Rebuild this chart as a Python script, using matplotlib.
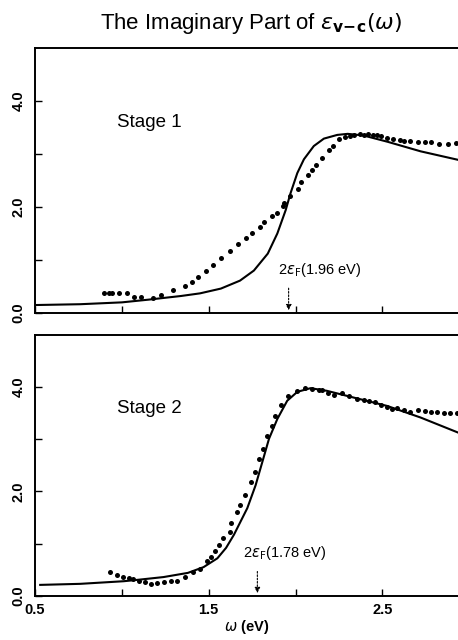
import matplotlib
matplotlib.use('Agg')
import matplotlib.pyplot as plt
from matplotlib.ticker import FixedLocator

plt.rcParams['font.family'] = ['Liberation Sans', 'DejaVu Sans']
plt.rcParams['mathtext.fontset'] = 'dejavusans'

# Stage 1: measured points (omega in eV, Im eps)
s1_dots_x = [0.895, 0.927, 0.943, 0.985, 1.029, 1.071, 1.113, 1.180, 1.228, 1.293,
             1.364, 1.402, 1.441, 1.484, 1.527, 1.572, 1.623, 1.671, 1.713, 1.751,
             1.795, 1.820, 1.866, 1.891, 1.929, 1.933, 1.966, 2.015, 2.034, 2.073,
             2.092, 2.115, 2.153, 2.191, 2.217, 2.249, 2.282, 2.312, 2.339, 2.368,
             2.393, 2.418, 2.447, 2.466, 2.494, 2.527, 2.561, 2.599, 2.622, 2.661,
             2.705, 2.747, 2.782, 2.823, 2.877, 2.925]
s1_dots_y = [0.37, 0.37, 0.37, 0.37, 0.375, 0.30, 0.30, 0.29, 0.34, 0.44,
             0.51, 0.59, 0.67, 0.79, 0.90, 1.03, 1.175, 1.31, 1.41, 1.50,
             1.62, 1.71, 1.83, 1.88, 2.01, 2.07, 2.20, 2.33, 2.47, 2.60,
             2.70, 2.79, 2.93, 3.07, 3.16, 3.28, 3.32, 3.34, 3.36, 3.37,
             3.36, 3.37, 3.36, 3.35, 3.34, 3.31, 3.28, 3.26, 3.24, 3.24,
             3.23, 3.23, 3.23, 3.19, 3.19, 3.21]

# Stage 1: theory curve
s1_line_x = [0.51, 0.76, 1.00, 1.15, 1.34, 1.45, 1.57, 1.68, 1.76, 1.84, 1.895,
             1.943, 1.971, 2.01, 2.048, 2.105, 2.163, 2.24, 2.30, 2.39, 2.53,
             2.72, 2.935]
s1_line_y = [0.15, 0.165, 0.20, 0.25, 0.32, 0.37, 0.46, 0.61, 0.80, 1.12, 1.50,
             1.94, 2.26, 2.64, 2.90, 3.15, 3.29, 3.36, 3.38, 3.35, 3.23,
             3.05, 2.89]

# Stage 2: measured points
s2_dots_x = [0.933, 0.971, 1.004, 1.042, 1.067, 1.100, 1.134, 1.167, 1.201, 1.243,
             1.282, 1.320, 1.364, 1.412, 1.450, 1.489, 1.511, 1.534, 1.562, 1.584,
             1.623, 1.626, 1.661, 1.680, 1.709, 1.741, 1.764, 1.789, 1.812, 1.837,
             1.862, 1.879, 1.914, 1.956, 2.006, 2.057, 2.096, 2.134, 2.153, 2.186,
             2.224, 2.268, 2.306, 2.351, 2.393, 2.421, 2.460, 2.494, 2.527, 2.556,
             2.585, 2.622, 2.661, 2.703, 2.743, 2.782, 2.814, 2.852, 2.891, 2.929]
s2_dots_y = [0.457, 0.39, 0.36, 0.34, 0.32, 0.28, 0.26, 0.22, 0.25, 0.27,
             0.29, 0.29, 0.36, 0.45, 0.52, 0.66, 0.74, 0.85, 0.98, 1.10,
             1.23, 1.39, 1.60, 1.75, 1.94, 2.18, 2.37, 2.62, 2.82, 3.07,
             3.26, 3.45, 3.66, 3.83, 3.93, 3.98, 3.96, 3.94, 3.94, 3.88,
             3.85, 3.88, 3.83, 3.78, 3.75, 3.73, 3.71, 3.66, 3.61, 3.59,
             3.60, 3.56, 3.53, 3.57, 3.54, 3.52, 3.52, 3.50, 3.50, 3.51]

# Stage 2: theory curve
s2_line_x = [0.53, 0.76, 1.01, 1.10, 1.24, 1.38, 1.47, 1.55, 1.60, 1.645, 1.722,
             1.77, 1.809, 1.847, 1.895, 1.952, 2.01, 2.086, 2.18, 2.335, 2.527,
             2.718, 2.935]
s2_line_y = [0.21, 0.23, 0.28, 0.31, 0.36, 0.44, 0.55, 0.72, 0.92, 1.17, 1.68,
             2.12, 2.57, 3.01, 3.39, 3.74, 3.91, 3.98, 3.93, 3.80, 3.64,
             3.42, 3.13]

stage_labels = ['Stage 1', 'Stage 2']
fermi_edges = [1.96, 1.78]
fermi_texts = [r'2$\varepsilon_{\rm F}$(1.96 eV)', r'2$\varepsilon_{\rm F}$(1.78 eV)']

fig = plt.figure(figsize=(4.58, 6.4), dpi=100)
ax1 = fig.add_axes([35 / 458, 0.511, 1 - 35 / 458, 0.414])
ax2 = fig.add_axes([35 / 458, 0.0690, 1 - 35 / 458, 0.4076])

panels = [
    (ax1, s1_dots_x, s1_dots_y, s1_line_x, s1_line_y),
    (ax2, s2_dots_x, s2_dots_y, s2_line_x, s2_line_y),
]

for i, (ax, dx, dy, lx, ly) in enumerate(panels):
    ax.plot(lx, ly, color='black', lw=1.5, zorder=2)
    ax.plot(dx, dy, 'o', color='black', ms=3.6, mew=0, zorder=3)

    ax.set_xlim(0.5, 2.935)
    ax.set_ylim(0, 5.0)

    ax.spines['right'].set_visible(False)
    for s in ['left', 'top', 'bottom']:
        ax.spines[s].set_linewidth(1.4)

    ax.yaxis.set_major_locator(FixedLocator([0, 2, 4]))
    ax.yaxis.set_minor_locator(FixedLocator([1, 3]))
    ax.xaxis.set_major_locator(FixedLocator([0.5, 1.5, 2.5]))
    ax.xaxis.set_minor_locator(FixedLocator([1.0, 2.0]))
    ax.tick_params(which='both', direction='in', length=5, width=1, top=False, right=False)
    ax.set_yticklabels(['0.0', '2.0', '4.0'], rotation=90, va='center',
                       fontsize=10.5, fontweight='bold')
    ax.tick_params(axis='y', pad=7)

    ax.text(1.16, 3.6, stage_labels[i], fontsize=13.5, ha='center', va='center')

    ef = fermi_edges[i]
    ax.annotate('', xy=(ef, 0.0), xytext=(ef, 0.52),
                arrowprops=dict(arrowstyle='-|>', ls=(0, (1.5, 1.5)), lw=0.8,
                                color='black', mutation_scale=8))
    tx = 1.897 if i == 0 else 1.695
    ax.text(tx, 0.74, fermi_texts[i], fontsize=10.5, ha='left', va='baseline')

ax1.set_xticklabels([])
ax2.set_xticklabels(['0.5', '1.5', '2.5'], fontsize=10.5, fontweight='bold')
ax2.tick_params(axis='x', pad=5)
ax2.set_xlabel(r'$\omega$ (eV)', fontsize=10.5, fontweight='bold', labelpad=1)

fig.text(0.548, 0.963, r'The Imaginary Part of $\varepsilon_{\mathbf{v\!-\!c}}(\omega)$',
         fontsize=16, ha='center', va='center')

plt.savefig('out.png', dpi=100)
